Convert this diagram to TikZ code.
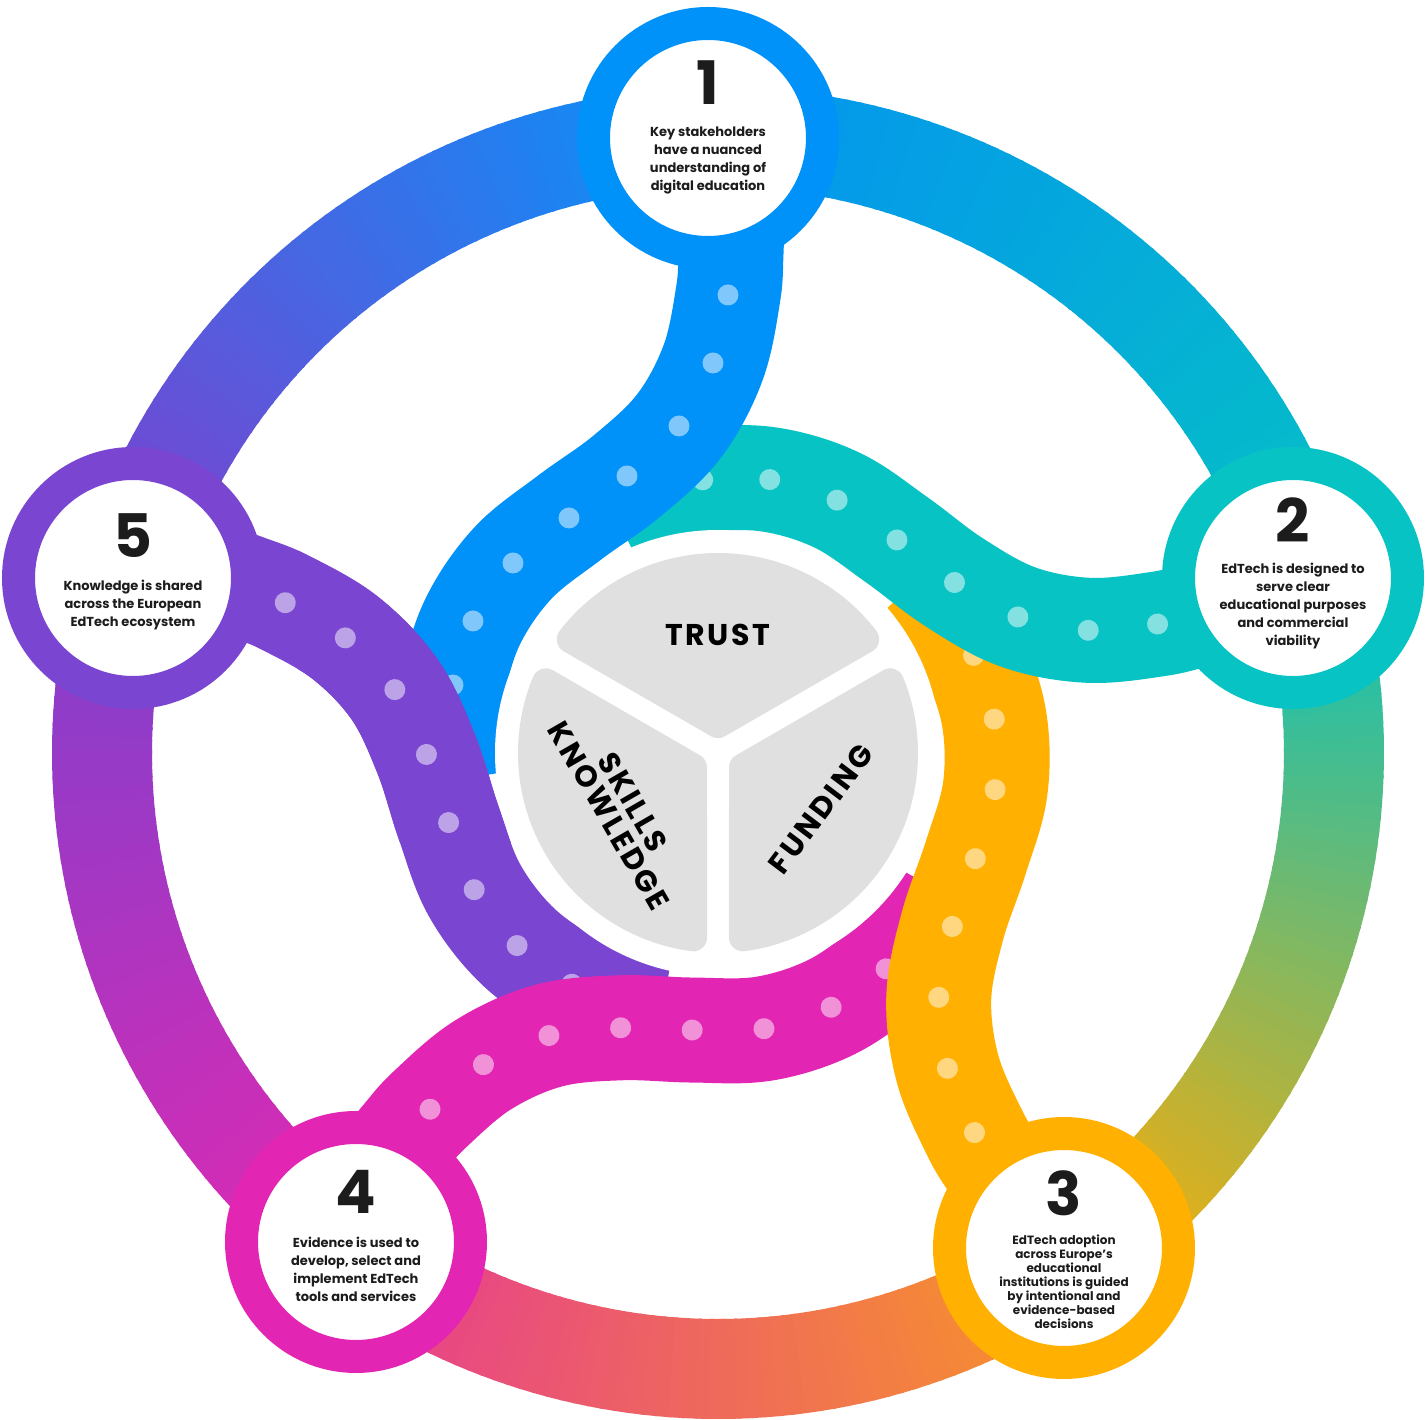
\documentclass[tikz,border=0pt]{standalone}
\usepackage{fontspec}
\setmainfont{Poppins}

\definecolor{stageblue}{HTML}{0091F9}
\definecolor{stageteal}{HTML}{07C3C3}
\definecolor{stageorange}{HTML}{FFB000}
\definecolor{stagepink}{HTML}{E325B4}
\definecolor{stagepurple}{HTML}{7A45D0}
\definecolor{pillargray}{HTML}{E0E0E0}
\definecolor{inkblack}{HTML}{1C1C1C}
% ring colours at both ends of each stretch
\definecolor{ringA0}{HTML}{06C0C5}
\definecolor{ringA1}{HTML}{0393F0}
\definecolor{ringB0}{HTML}{0693FA}
\definecolor{ringB1}{HTML}{7E40CE}
\definecolor{ringC0}{HTML}{7E40CE}
\definecolor{ringC1}{HTML}{E029B1}
\definecolor{ringD0}{HTML}{E53A93}
\definecolor{ringD1}{HTML}{F89825}
\definecolor{ringE0}{HTML}{FFAC04}
\definecolor{ringE1}{HTML}{07C3BE}

% one dotted band from a stage to the centre
\newcommand{\swirl}[2]{%
  \begin{scope}[rotate=#1]
    \draw[#2, line width=105pt] plot [smooth, tension=0.6] coordinates
      {(15,575) (13,500) (10,458) (-5,390) (-39,327) (-91,277) (-149,235)
       (-205,190) (-245,132) (-265,68) (-272,5) (-270,-28)};
    \foreach \p in {(10,458),(-5,390),(-39,327),(-91,277),(-149,235),(-205,190),(-245,132),(-265,68)}
      \fill[dot] \p circle [radius=10.5];
  \end{scope}}

\begin{document}
\begin{tikzpicture}[x=1pt, y=1pt,
    stage/.style={circle, fill=white, line width=33pt, minimum size=229pt, inner sep=0pt},
    num/.style={font=\fontsize{60}{60}\selectfont\bfseries, text=inkblack, inner sep=0pt},
    desc/.style={font=\fontsize{13}{18}\selectfont\bfseries, align=center, text=inkblack, inner sep=0pt},
    pillar/.style={font=\fontsize{30}{28}\selectfont\bfseries\addfontfeatures{LetterSpace=9}, align=center, text=black, inner sep=0pt},
    dot/.style={fill=white, fill opacity=0.5}]
    \fill[white] (-718,-667) rectangle (709,753);
    \useasboundingbox (-718,-667) rectangle (709,753);

    % Draw outer ring in short arcs
    \foreach \a/\b/\ca/\cb in {17/91/ringA0/ringA1, 91/163.4/ringB0/ringB1,
        163.4/233.5/ringC0/ringC1, 233.5/305/ringD0/ringD1, 305/377/ringE0/ringE1} {
      \foreach \i in {0,...,59} {
        \pgfmathsetmacro\t{\a+(\b-\a)*\i/60}
        \pgfmathsetmacro\e{\t+(\b-\a)/60+0.3}
        \pgfmathsetmacro\f{100*(\i+0.5)/60}
        \colorlet{ringnow}{\cb!\f!\ca}
        \draw[ringnow, line width=100pt] (\t:616) arc [start angle=\t, end angle=\e, radius=616];
      }
    }

    % Draw bands, then purple again over the end of the blue one
    \swirl{72.1}{stagepurple}
    \swirl{-217.7}{stagepink}
    \swirl{-144.7}{stageorange}
    \swirl{-72.4}{stageteal}
    \swirl{0}{stageblue}
    \begin{scope}
      \clip (-420,-90) rectangle (-150,230);
      \swirl{72.1}{stagepurple}
    \end{scope}

    % Draw centre
    \fill[white] (0,0) circle [radius=223];
    \foreach \r in {90,210,330}
      \filldraw[pillargray, line width=28pt, line join=round] (\r:28.9) -- (\r-52.3:186)
        arc [start angle=\r-52.3, end angle=\r+52.3, radius=186] -- cycle;
    \node[pillar] (trust) at (0,118) {TRUST};
    \node[pillar, rotate=53] (funding) at (103,-56) {FUNDING};
    \node[pillar, rotate=-60] (skills) at (-97,-56) {SKILLS\\KNOWLEDGE};

    % Draw stages
    \node[stage, draw=stageblue] (s1) at (-10,615) {};
    \node[stage, draw=stageteal] (s2) at (575,175) {};
    \node[stage, draw=stageorange] (s3) at (346,-495) {};
    \node[stage, draw=stagepink] (s4) at (-362,-489) {};
    \node[stage, draw=stagepurple] (s5) at (-585,175) {};

    \node[num] (n1) at ([yshift=55pt]s1.center) {1};
    \node[num] (n2) at ([yshift=58pt]s2.center) {2};
    \node[num] (n3) at ([yshift=55pt]s3.center) {3};
    \node[num] (n4) at ([yshift=50pt]s4.center) {4};
    \node[num] (n5) at ([yshift=42pt]s5.center) {5};

    \node[desc] (d1) at ([yshift=-22pt]s1.center) {Key stakeholders\\have a nuanced\\understanding of\\digital education};
    \node[desc] (d2) at ([yshift=-28pt]s2.center) {EdTech is designed to\\serve clear\\educational purposes\\and commercial\\viability};
    \node[desc, font=\fontsize{12}{14}\selectfont\bfseries] (d3) at ([yshift=-34pt]s3.center)
      {EdTech adoption\\across Europe’s\\educational\\institutions is guided\\by intentional and\\evidence-based\\decisions};
    \node[desc] (d4) at ([yshift=-27.5pt]s4.center) {Evidence is used to\\develop, select and\\implement EdTech\\tools and services};
    \node[desc] (d5) at ([yshift=-27pt]s5.center) {Knowledge is shared\\across the European\\EdTech ecosystem};
\end{tikzpicture}
\end{document}
